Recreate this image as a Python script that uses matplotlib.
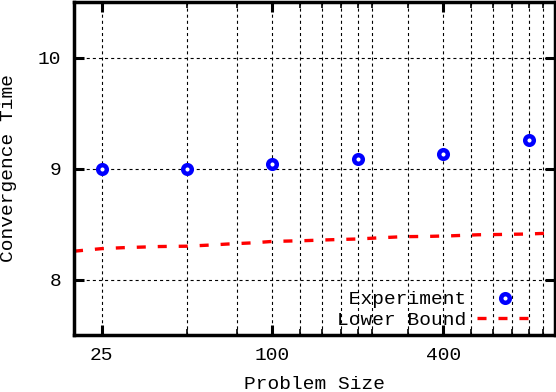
import numpy as np
import matplotlib
matplotlib.use("Agg")
import matplotlib.pyplot as plt
from matplotlib.ticker import FixedLocator, NullFormatter

plt.rc('font', family=['Liberation Mono', 'DejaVu Sans Mono'], size=14)
plt.rc('lines', scale_dashes=False)

# Experiment points
sizes = [25, 50, 100, 200, 400, 800]
times = [9.0, 9.0, 9.04, 9.09, 9.135, 9.26]

# Lower bound curve
lb_x = [20, 25, 30, 40, 50, 60, 70, 85, 100, 130, 160, 200, 240, 290,
        350, 430, 530, 650, 800, 1000]
lb_y = [8.255, 8.278, 8.287, 8.297, 8.30, 8.31, 8.32, 8.33, 8.343, 8.35,
        8.358, 8.365, 8.376, 8.386, 8.388, 8.394, 8.403, 8.406, 8.41, 8.42]

major_x = [25, 100, 400]
minor_x = [50, 75, 125, 150, 175, 200, 225, 300, 500, 600, 700, 800, 900]
major_y = [8, 9, 10]

fig = plt.figure(figsize=(5.56, 3.92), dpi=100)
ax = fig.add_axes([74 / 556, 1 - 335 / 392, 481 / 556, 333 / 392])

ax.plot(lb_x, lb_y, color='red', lw=2.4, dashes=(6.5, 8.6),
        dash_capstyle='butt', label='Lower Bound')
ax.plot(sizes, times, ls='none', marker='o', ms=6.2, mfc='white',
        mec='blue', mew=3.2, label='Experiment')

ax.set_xscale('log')
ax.set_xlim(20, 990)
ax.set_ylim(7.5, 10.5)
ax.xaxis.set_major_locator(FixedLocator(major_x))
ax.xaxis.set_major_formatter(plt.FixedFormatter([str(v) for v in major_x]))
ax.xaxis.set_minor_locator(FixedLocator(minor_x))
ax.xaxis.set_minor_formatter(NullFormatter())
ax.yaxis.set_major_locator(FixedLocator(major_y))
ax.yaxis.set_minor_locator(FixedLocator([]))

ax.tick_params(which='both', direction='in', top=True, right=True, color='black')
ax.tick_params(which='major', length=7, width=2.2, pad=9)
ax.tick_params(which='minor', length=4, width=1.2)
ax.grid(True, which='both', axis='x', color='black', lw=0.8, ls=(0, (2.2, 2.2)))
ax.grid(True, which='major', axis='y', color='black', lw=0.8, ls=(0, (2.2, 2.2)))
for s in ax.spines.values():
    s.set_linewidth(2.5)

ax.set_xlabel('Problem Size', labelpad=8)
ax.set_ylabel('Convergence Time', labelpad=15)

handles, labels = ax.get_legend_handles_labels()
leg = ax.legend(handles[::-1], [' Experiment', 'Lower Bound'], markerfirst=False,
                frameon=False, loc='lower right', borderpad=0, borderaxespad=0,
                handlelength=2.9, handletextpad=0.55, labelspacing=0.15,
                bbox_to_anchor=(533 / 556, 1 - 329 / 392),
                bbox_transform=fig.transFigure)

fig.savefig('out.png', dpi=100)
